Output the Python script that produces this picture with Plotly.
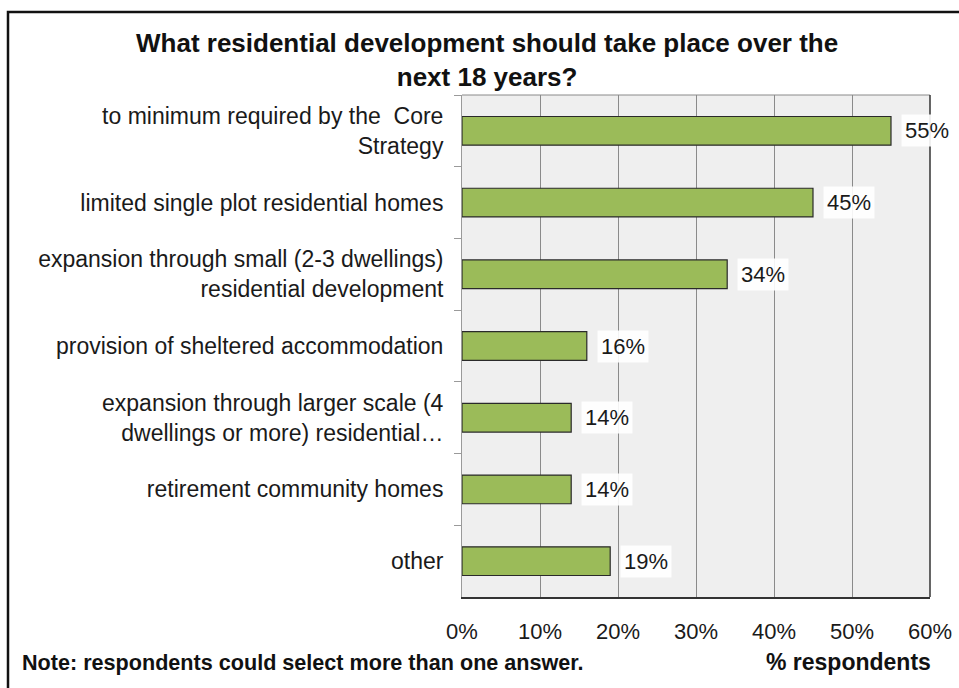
import plotly.graph_objects as go

# Survey responses (share of respondents choosing each option)
categories = [
    "to minimum required by the  Core<br>Strategy",
    "limited single plot residential homes",
    "expansion through small (2-3 dwellings)<br>residential development",
    "provision of sheltered accommodation",
    "expansion through larger scale (4<br>dwellings or more) residential…",
    "retirement community homes",
    "other",
]
values = [55, 45, 34, 16, 14, 14, 19]
x_ticks = [0, 10, 20, 30, 40, 50, 60]
x_tick_labels = ["0%", "10%", "20%", "30%", "40%", "50%", "60%"]

title_text = "What residential development should take place over the<br>next 18 years?"
note_text = "Note: respondents could select more than one answer."
axis_title = "% respondents"

FONT = "Liberation Sans, Arial, sans-serif"
W, H = 959, 688
L, R, T, B = 462, 29, 95, 91
pw, ph = W - L - R, H - T - B


def px_x(px):
    return (px - L) / pw


def px_y(py):
    return (H - B - py) / ph


fig = go.Figure()
fig.add_trace(go.Bar(
    x=values,
    y=categories,
    orientation="h",
    width=0.4,
    marker=dict(color="#9BBB59", line=dict(color="#2a2a2a", width=1.2)),
    hoverinfo="skip",
))

# Value labels on a white backing
for cat, v in zip(categories, values):
    fig.add_annotation(
        x=v, y=cat, xref="x", yref="y",
        text=f"{v}%", showarrow=False,
        xanchor="left", xshift=10,
        font=dict(family=FONT, size=22, color="#1a1a1a"),
        bgcolor="rgba(255,255,255,0.9)", borderpad=3,
    )

fig.update_layout(
    width=W, height=H,
    margin=dict(l=L, r=R, t=T, b=B, autoexpand=False),
    paper_bgcolor="white",
    plot_bgcolor="#efefef",
    showlegend=False,
    xaxis=dict(
        range=[0, 60],
        tickvals=x_ticks, ticktext=x_tick_labels,
        showgrid=True, gridcolor="#8a8a8a", gridwidth=1,
        zeroline=False,
        showline=True, linecolor="#333333", linewidth=1.5,
        ticks="", ticklabelstandoff=14,
        tickfont=dict(family=FONT, size=22, color="#1a1a1a"),
        fixedrange=True,
    ),
    yaxis=dict(
        autorange="reversed",
        showgrid=False, zeroline=False,
        showline=True, linecolor="#9a9a9a", linewidth=1,
        ticks="outside", tickson="boundaries", ticklen=7, tickcolor="#9a9a9a",
        ticklabelstandoff=13,
        tickfont=dict(family=FONT, size=23, color="#1a1a1a"),
        fixedrange=True,
    ),
    font=dict(family=FONT),
)

# Chart title
fig.add_annotation(
    text=title_text, xref="paper", yref="paper",
    x=px_x(487), y=px_y(60), showarrow=False,
    xanchor="center", yanchor="middle",
    font=dict(family=FONT, size=26, color="#111111", weight="bold"),
)

# Plot-area edges: grey top, dark right
fig.add_shape(type="line", xref="paper", yref="paper",
              x0=0, x1=1, y0=1, y1=1, line=dict(color="#8a8a8a", width=1))
fig.add_shape(type="line", xref="paper", yref="paper",
              x0=1, x1=1, y0=0, y1=1, line=dict(color="#333333", width=1.5))

# Outer frame around the chart
fig.add_shape(type="rect", xref="paper", yref="paper",
              x0=px_x(8), x1=px_x(975), y0=px_y(12), y1=px_y(705),
              line=dict(color="#111111", width=2.5), layer="above")

fig.add_annotation(
    text=axis_title, xref="paper", yref="paper",
    x=px_x(848), y=px_y(662), showarrow=False,
    xanchor="center", yanchor="middle",
    font=dict(family=FONT, size=23, color="#111111", weight="bold"),
)
fig.add_annotation(
    text=note_text, xref="paper", yref="paper",
    x=px_x(20), y=px_y(663), showarrow=False,
    xanchor="left", yanchor="middle",
    font=dict(family=FONT, size=21.6, color="#111111", weight="bold"),
)

fig.write_html("out.html", config={"displayModeBar": False})
